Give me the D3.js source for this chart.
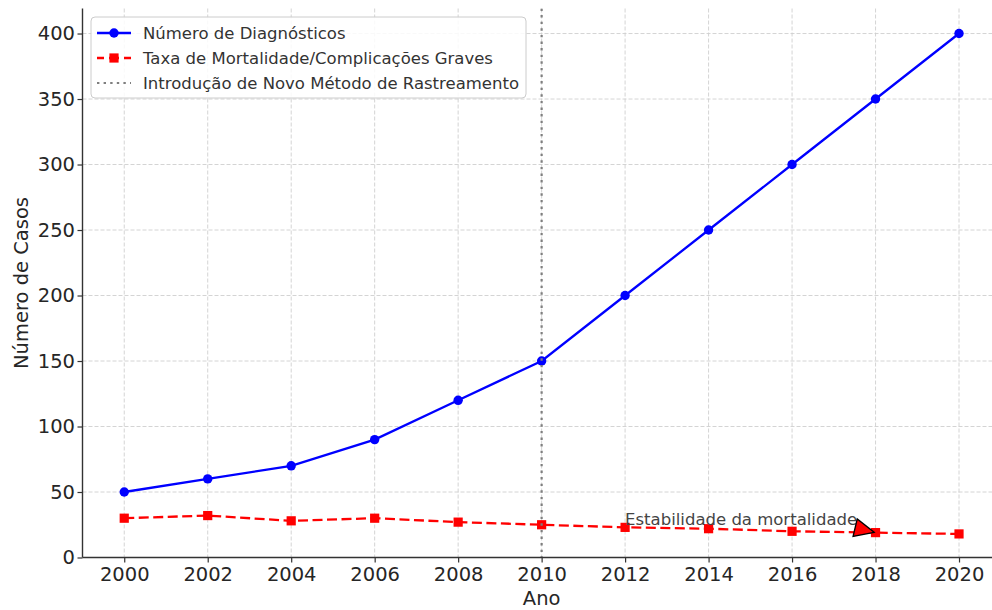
<!DOCTYPE html>
<html>
<head>
<meta charset="utf-8">
<script src="https://cdn.jsdelivr.net/npm/d3@7"></script>
<style>
  body { margin: 0; background: #fff; }
  text { font-family: "DejaVu Sans", sans-serif; }
</style>
</head>
<body>
<svg id="chart" width="992" height="610"></svg>
<script>
// Anos observados e séries
const anos = [2000, 2002, 2004, 2006, 2008, 2010, 2012, 2014, 2016, 2018, 2020];
const diagnosticos = [50, 60, 70, 90, 120, 150, 200, 250, 300, 350, 400];
const mortalidade = [30, 32, 28, 30, 27, 25, 23, 22, 20, 19, 18];
const yTicks = [0, 50, 100, 150, 200, 250, 300, 350, 400];
const anoNovoMetodo = 2010;
const nomesSeries = [
  "Número de Diagnósticos",
  "Taxa de Mortalidade/Complicações Graves",
  "Introdução de Novo Método de Rastreamento"
];
const notaTexto = "Estabilidade da mortalidade";
const notaPos = [2012, 25];
const notaAlvo = [2018, 19];

const svg = d3.select("#chart");
const W = 992, H = 610;
svg.append("rect").attr("width", W).attr("height", H).attr("fill", "#fff");

const x = d3.scaleLinear().domain([1999, 2021]).range([82.5, 1000.75]);
const y = d3.scaleLinear().domain([0, 419.1]).range([557.5, 8.5]);

const [x0, x1] = x.range();
const [yb, yt] = y.range();

svg.append("clipPath").attr("id", "plot")
  .append("rect").attr("x", x0).attr("y", yt).attr("width", x1 - x0).attr("height", yb - yt);

// grade tracejada
const grid = svg.append("g").attr("stroke", "#cfcfcf").attr("stroke-width", 0.9)
  .attr("stroke-dasharray", "4,2");
grid.selectAll("line.v").data(anos).join("line").attr("class", "v")
  .attr("x1", d => x(d)).attr("x2", d => x(d)).attr("y1", yt).attr("y2", yb);
grid.selectAll("line.h").data(yTicks).join("line").attr("class", "h")
  .attr("y1", d => y(d)).attr("y2", d => y(d)).attr("x1", x0).attr("x2", x1);

const plot = svg.append("g").attr("clip-path", "url(#plot)");

// série azul
const linha = d3.line().x((d, i) => x(anos[i])).y(d => y(d));
plot.append("path").datum(diagnosticos).attr("d", linha)
  .attr("fill", "none").attr("stroke", "#0000ff").attr("stroke-width", 2.3);
plot.selectAll("circle.diag").data(diagnosticos).join("circle").attr("class", "diag")
  .attr("cx", (d, i) => x(anos[i])).attr("cy", d => y(d)).attr("r", 4.7).attr("fill", "#0000ff");

// série vermelha tracejada
plot.append("path").datum(mortalidade).attr("d", linha)
  .attr("fill", "none").attr("stroke", "#ff0000").attr("stroke-width", 2.3)
  .attr("stroke-dasharray", "10,4.5");
plot.selectAll("rect.mort").data(mortalidade).join("rect").attr("class", "mort")
  .attr("x", (d, i) => x(anos[i]) - 4.6).attr("y", d => y(d) - 4.6)
  .attr("width", 9.2).attr("height", 9.2).attr("fill", "#ff0000");

// linha vertical pontilhada
plot.append("line")
  .attr("x1", x(anoNovoMetodo)).attr("x2", x(anoNovoMetodo)).attr("y1", yt).attr("y2", yb)
  .attr("stroke", "#7f7f7f").attr("stroke-width", 2.2).attr("stroke-dasharray", "2.4,4.2");

// eixos
const axisColor = "#333";
const yAxis = svg.append("g").attr("transform", `translate(${x0},0)`)
  .call(d3.axisLeft(y).tickValues(yTicks).tickSize(5).tickSizeOuter(0).tickPadding(2.5));
const xAxis = svg.append("g").attr("transform", `translate(0,${yb})`)
  .call(d3.axisBottom(x).tickValues(anos).tickFormat(d3.format("d")).tickSize(5).tickSizeOuter(0).tickPadding(4.5));
[yAxis, xAxis].forEach(g => {
  g.select(".domain").remove();
  g.selectAll(".tick line").attr("stroke", axisColor).attr("stroke-width", 1.2);
  g.selectAll(".tick text").attr("fill", "#262626").style("font-size", "19.5px")
    .style("font-family", "DejaVu Sans, sans-serif");
});
svg.append("line").attr("x1", x0).attr("x2", x0).attr("y1", yt).attr("y2", yb)
  .attr("stroke", axisColor).attr("stroke-width", 1.4);
svg.append("line").attr("x1", x0).attr("x2", x1).attr("y1", yb).attr("y2", yb)
  .attr("stroke", axisColor).attr("stroke-width", 1.4);

// rótulos dos eixos
svg.append("text").attr("x", (x0 + x1) / 2).attr("y", 605).attr("text-anchor", "middle")
  .attr("fill", "#262626").style("font-size", "19.5px").text("Ano");
svg.append("text").attr("transform", `translate(28,${(yt + yb) / 2}) rotate(-90)`)
  .attr("text-anchor", "middle").attr("fill", "#262626").style("font-size", "19.5px")
  .text("Número de Casos");

// anotação com seta
const nota = svg.append("text").attr("x", x(notaPos[0])).attr("y", y(notaPos[1]))
  .attr("fill", "#444").style("font-size", "16.5px").text(notaTexto);
const fimTexto = x(notaPos[0]) + nota.node().getComputedTextLength();
const tail = [fimTexto - 2, y(notaPos[1]) + 3];
const alvo = [x(notaAlvo[0]), y(notaAlvo[1])];
const dx = alvo[0] - tail[0], dy = alvo[1] - tail[1];
const dist = Math.hypot(dx, dy);
const ux = dx / dist, uy = dy / dist;
const tip = [alvo[0] - ux * 1.5, alvo[1] - uy * 1.5];
const hl = Math.hypot(tip[0] - tail[0], tip[1] - tail[1]);
const hw = 9;
const base = [tip[0] - ux * hl, tip[1] - uy * hl];
svg.append("path")
  .attr("d", `M${tip[0]},${tip[1]}L${base[0] - uy * hw},${base[1] + ux * hw}L${base[0] + uy * hw},${base[1] - ux * hw}Z`)
  .attr("fill", "#ff0000").attr("stroke", "#000").attr("stroke-width", 1.3).attr("stroke-linejoin", "miter");

// legenda
const leg = svg.append("g").attr("transform", "translate(91,17)");
leg.append("rect").attr("width", 435).attr("height", 81).attr("rx", 4)
  .attr("fill", "#fff").attr("fill-opacity", 0.85).attr("stroke", "#cccccc").attr("stroke-width", 1);
const rows = [16, 41, 66];
// amostra azul
leg.append("line").attr("x1", 6).attr("x2", 40).attr("y1", rows[0]).attr("y2", rows[0])
  .attr("stroke", "#0000ff").attr("stroke-width", 2.3);
leg.append("circle").attr("cx", 23).attr("cy", rows[0]).attr("r", 4.7).attr("fill", "#0000ff");
// amostra vermelha
leg.append("line").attr("x1", 6).attr("x2", 40).attr("y1", rows[1]).attr("y2", rows[1])
  .attr("stroke", "#ff0000").attr("stroke-width", 2.3).attr("stroke-dasharray", "7,5,10,5,10");
leg.append("rect").attr("x", 18.4).attr("y", rows[1] - 4.6).attr("width", 9.2).attr("height", 9.2).attr("fill", "#ff0000");
// amostra pontilhada
leg.append("line").attr("x1", 6).attr("x2", 40).attr("y1", rows[2]).attr("y2", rows[2])
  .attr("stroke", "#7f7f7f").attr("stroke-width", 2.2).attr("stroke-dasharray", "2.4,4.2");
leg.selectAll("text.lbl").data(nomesSeries).join("text").attr("class", "lbl")
  .attr("x", 52).attr("y", (d, i) => rows[i] + 6).attr("fill", "#333")
  .style("font-size", "16.5px").text(d => d);
</script>
</body>
</html>
